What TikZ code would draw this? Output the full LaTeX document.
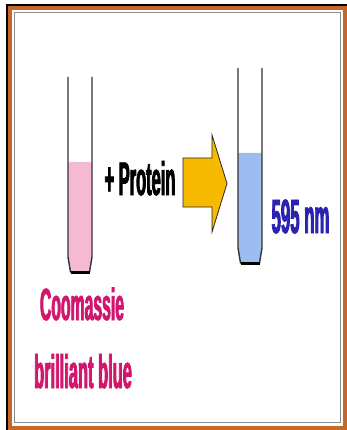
\documentclass[tikz,border=0pt]{standalone}
\usepackage{fontspec}
\usepackage{tikz}
\usetikzlibrary{positioning}
\newfontfamily\narrowfont[FakeStretch=0.35, FakeBold=1.6]{Liberation Sans}
\definecolor{framebrown}{RGB}{200,104,40}
\definecolor{dyepink}{RGB}{245,186,210}
\definecolor{dyeblue}{RGB}{157,189,240}
\definecolor{arrowgold}{RGB}{248,186,0}
\definecolor{labelmag}{RGB}{210,22,110}
\definecolor{labelblue}{RGB}{42,34,176}
\tikzset{
  twall/.style ={draw=black!80, line width=1.4pt},
  tbase/.style ={draw=black, line width=3pt},
  lbl/.style   ={inner sep=0pt, anchor=base, font=\narrowfont\bfseries},
  blockar/.style={fill=arrowgold, draw=black!85, line width=0.8pt, line join=miter},
}
\begin{document}
\begin{tikzpicture}[x=1pt, y=-1pt]
\useasboundingbox (0,0) rectangle (347,430);
% frame
\draw[framebrown, line width=4pt] (10.3,8.2) rectangle (344.5,427.5);
\draw[black, line width=2.3pt] (7.2,430) |- (347,5);
\draw[black!45, line width=0.9pt] (14,12) rectangle (340.5,422.5);

% left tube, pink dye
\fill[dyepink] (68,162) -- (68,257) -- (70.5,273) -- (89.5,273) -- (92,257) -- (92,162) -- cycle;
\draw[twall] (68,77) -- (68,257) -- (70.5,272) -- (89.5,272) -- (92,257) -- (92,77);
\draw[tbase] (70.5,272) -- (89.5,272);

% right tube, blue complex
\fill[dyeblue] (238,153) -- (238,248) -- (240.5,264) -- (259.5,264) -- (262,248) -- (262,153) -- cycle;
\draw[twall] (238,68) -- (238,248) -- (240.5,263) -- (259.5,263) -- (262,248) -- (262,68);
\draw[tbase] (240.5,263) -- (259.5,263);

% block arrow
\draw[blockar] (183,158) -- (212,158) -- (212,135) -- (227,183.5) -- (212,232)
  -- (212,207) -- (183,207) -- cycle;

% labels
\node[lbl, font=\narrowfont\bfseries\fontsize{47}{50}\selectfont] (prot) at (140,195) {+ Protein};
\node[lbl, text=labelblue, font=\narrowfont\bfseries\fontsize{48}{52}\selectfont] (nm) at (300.5,233) {595 nm};
\node[lbl, text=labelmag, font=\narrowfont\bfseries\fontsize{45}{50}\selectfont] (coom) at (82,320) {Coomassie};
\node[lbl, text=labelmag, font=\narrowfont\bfseries\fontsize{47}{52}\selectfont] (cbb) at (83,388) {brilliant blue};
\end{tikzpicture}
\end{document}
